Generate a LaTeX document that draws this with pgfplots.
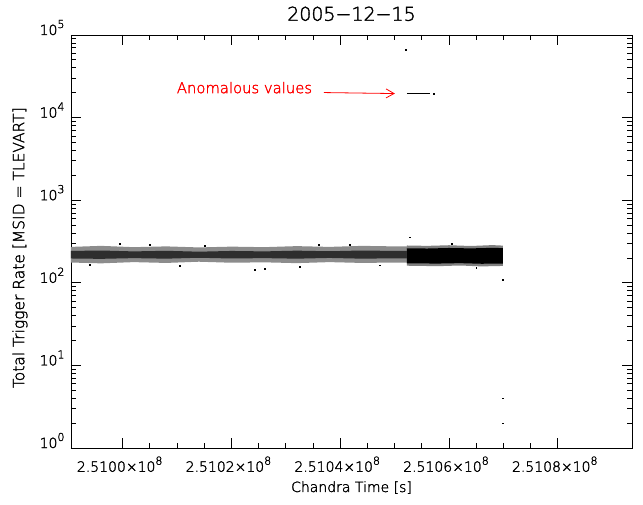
\documentclass[border=0pt]{standalone}
\usepackage{fontspec}
\setmainfont{DejaVu Sans ExtraLight}[FakeBold=1.8]
\usepackage{pgfplots}
\pgfplotsset{compat=1.18}
\usetikzlibrary{arrows.meta}
\newcommand\tl{\fontsize{14}{16}\selectfont}
\newcommand\ttl{\fontsize{19}{22}\selectfont}
\newcommand\an{\fontsize{14.8}{17}\selectfont}
\newcommand\ex[1]{\raisebox{0.5em}{\fontsize{11}{12}\selectfont #1}}
% x values are seconds after 2.51e8 (Chandra time), to keep precision
\begin{document}
\begin{tikzpicture}
\path[use as bounding box] (-71pt,-56pt) rectangle (572pt,448pt);
\begin{axis}[
  at={(0,0)}, anchor=south west,
  scale only axis, width=561pt, height=413pt,
  xmin=-9500, xmax=93650,
  ymode=log, ymin=1, ymax=1e5,
  scaled x ticks=false,
  xtick={0,20000,40000,60000,80000},
  xticklabels={2.5100×10\ex{8},2.5102×10\ex{8},2.5104×10\ex{8},2.5106×10\ex{8},2.5108×10\ex{8}},
  minor x tick num=3,
  ytick={1,10,100,1000,10000,100000},
  yticklabels={10\ex{0},10\ex{1},10\ex{2},10\ex{3},10\ex{4},10\ex{5}},
  tick align=inside,
  major tick length=10pt, minor tick length=5pt,
  axis line style={line width=0.8pt},
  every tick/.style={black, line width=0.8pt},
  tick label style={font=\tl},
  xticklabel style={yshift=-5pt, xshift=-3pt},
  yticklabel style={anchor=base east, xshift=-3pt},
  title={2005−12−15},
  title style={at={(axis description cs:0.5,1.02)}, anchor=base, font=\ttl},
  xlabel={Chandra Time [s]},
  xlabel style={at={(axis description cs:0.5,-0.1065)}, anchor=base, font=\tl},
  ylabel={Total Trigger Rate [MSID = TLEVART]},
  ylabel style={at={(axis description cs:-0.091,0.485)}, anchor=center, font=\fontsize{15.5}{18}\selectfont},
]
% sparse band, outer fringe
\addplot[fill=black!45, draw=none] coordinates {
  (-9500,272) (-4000,280) (2000,270) (8000,276) (14000,268) (20000,274)
  (26000,270) (32000,278) (38000,272) (44000,280) (50000,276) (52256,276)
  (52256,176) (50000,176) (44000,174) (38000,178) (32000,173) (26000,177)
  (20000,175) (14000,180) (8000,174) (2000,178) (-4000,172) (-9500,176)};
% sparse band, core
\addplot[fill=black!82, draw=none] coordinates {
  (-9500,243) (-4000,246) (2000,240) (8000,244) (14000,238) (20000,243)
  (26000,240) (32000,245) (38000,241) (44000,246) (50000,243) (52256,243)
  (52256,198) (50000,198) (44000,196) (38000,200) (32000,196) (26000,199)
  (20000,197) (14000,201) (8000,196) (2000,199) (-4000,195) (-9500,197)};
% dense block, fringe
\addplot[fill=black!50, draw=none] coordinates {
  (52256,283) (56000,280) (60000,285) (64000,279) (68000,286) (69920,282)
  (69920,160) (66000,158) (62000,162) (58000,159) (52256,161)};
% dense block, solid
\addplot[fill=black, draw=none] coordinates {
  (52256,262) (56000,260) (60000,264) (64000,261) (68000,265) (69920,263)
  (69920,171) (66000,170) (62000,173) (58000,171) (52256,172)};
% isolated points
\addplot[only marks, mark=square*, mark size=0.4pt, black] coordinates {
  (15088,283) (24288,144) (26128,149) (52808,356) (69920,109)
  (69920,4.0) (69920,2.0) (52072,65900) (57132,19550)
  (-552,299) (32568,158) (41768,291) (10488,162) (47288,163) (-6000,166)
  (5000,290) (36000,287) (60500,295) (65000,152)};
% anomalous values
\addplot[black, line width=0.9pt] coordinates {(52256,19550) (56486,19550)};
\node[red, font=\an, anchor=base west, inner sep=0pt] at (axis cs:9936,19770) {Anomalous values};
\draw[red, line width=0.8pt, -{Straight Barb[length=8pt,width=9pt]}]
  (axis cs:36984,20100) -- (axis cs:50048,19550);
\end{axis}
\end{tikzpicture}
\end{document}
